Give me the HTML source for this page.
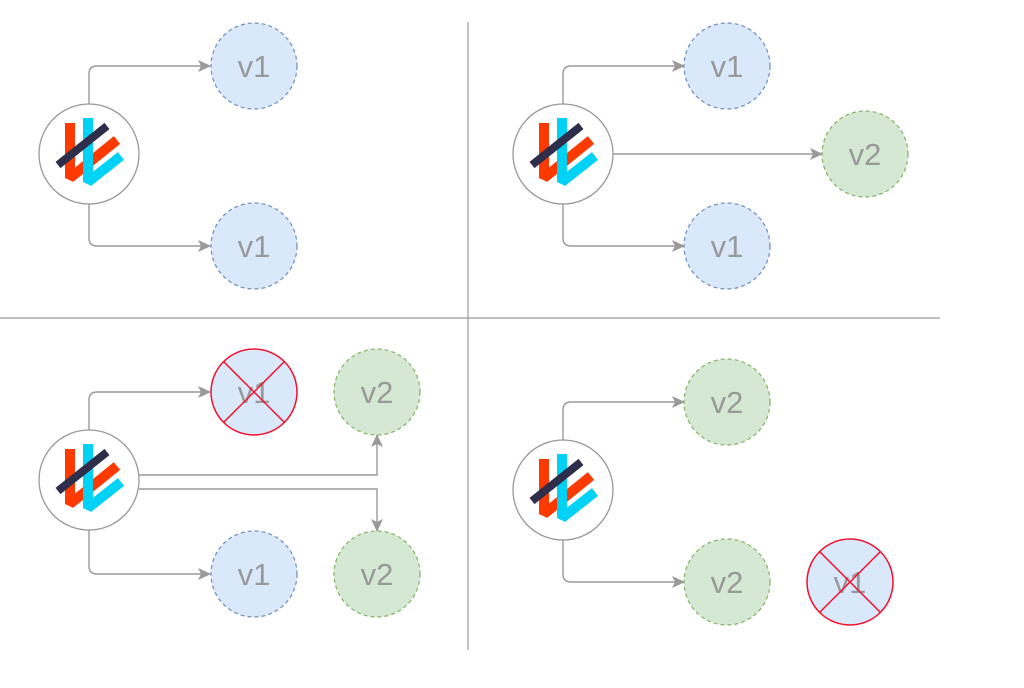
<!DOCTYPE html><html><head><style>body{margin:0;background:#fff}</style></head><body>
<svg width="1024" height="683" viewBox="0 0 1024 683" xmlns="http://www.w3.org/2000/svg" font-family="Liberation Sans, sans-serif">
<defs>
<marker id="a" markerWidth="13" markerHeight="12" refX="12" refY="6" orient="auto" markerUnits="userSpaceOnUse"><path d="M0,0 L13,6 L0,12 L3,6 Z" fill="#999"/></marker>
<g id="logo">
<circle r="50" fill="#fff" stroke="#999" stroke-width="1.3"/>
<polyline points="-19,-31 -19,24 28,-14" fill="none" stroke="#ff3a00" stroke-width="10" stroke-linejoin="bevel"/>
<polyline points="-1,-36 -1,28 32,2" fill="none" stroke="#00d2f5" stroke-width="10" stroke-linejoin="bevel"/>
<line x1="-31" y1="11" x2="18" y2="-28" stroke="#2e2e4a" stroke-width="8"/>
</g>
<g id="b"><circle r="43" fill="#dae8fc" stroke="#6c8ebf" stroke-width="1.2" stroke-dasharray="4 3"/><text y="11" text-anchor="middle" font-size="31" fill="#999">v1</text></g>
<g id="g"><circle r="43" fill="#d5e8d4" stroke="#82b366" stroke-width="1.2" stroke-dasharray="4 3"/><text y="11" text-anchor="middle" font-size="31" fill="#999">v2</text></g>
<g id="x"><circle r="43" fill="#dae8fc" stroke="#f0102a" stroke-width="1.5"/><text y="11" text-anchor="middle" font-size="31" fill="#999">v1</text><line x1="-30" y1="-30" x2="30" y2="30" stroke="#f0102a" stroke-width="1.5"/><line x1="30" y1="-30" x2="-30" y2="30" stroke="#f0102a" stroke-width="1.5"/></g>
</defs>
<line x1="468" y1="22" x2="468" y2="650" stroke="#999" stroke-width="1.2"/>
<line x1="0" y1="318" x2="940" y2="318" stroke="#999" stroke-width="1.2"/>
<g fill="none" stroke="#999" stroke-width="1.4">
<path d="M89,104 V74 Q89,66 97,66 H210" marker-end="url(#a)"/>
<path d="M89,204 V238 Q89,246 97,246 H210" marker-end="url(#a)"/>
<path d="M563,104 V74 Q563,66 571,66 H684" marker-end="url(#a)"/>
<path d="M563,204 V238 Q563,246 571,246 H684" marker-end="url(#a)"/>
<path d="M613,154 H822" marker-end="url(#a)"/>
<path d="M89,430 V400 Q89,392 97,392 H210" marker-end="url(#a)"/>
<path d="M89,530 V566 Q89,574 97,574 H210" marker-end="url(#a)"/>
<path d="M139,475 H377 V435" marker-end="url(#a)"/>
<path d="M139,489 H377 V531" marker-end="url(#a)"/>
<path d="M563,440 V410 Q563,402 571,402 H684" marker-end="url(#a)"/>
<path d="M563,540 V574 Q563,582 571,582 H684" marker-end="url(#a)"/>
</g>
<use href="#logo" x="89" y="154"/><use href="#b" x="254" y="66"/><use href="#b" x="254" y="246"/>
<use href="#logo" x="563" y="154"/><use href="#b" x="727" y="66"/><use href="#g" x="865" y="154"/><use href="#b" x="727" y="246"/>
<use href="#logo" x="89" y="480"/><use href="#x" x="254" y="392"/><use href="#g" x="377" y="392"/><use href="#b" x="254" y="574"/><use href="#g" x="377" y="574"/>
<use href="#logo" x="563" y="490"/><use href="#g" x="727" y="402"/><use href="#g" x="727" y="582"/><use href="#x" x="850" y="582"/>
</svg></body></html>
